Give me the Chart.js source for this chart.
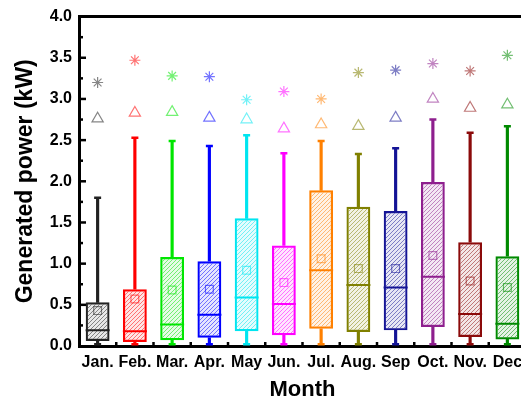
<!DOCTYPE html>
<html lang="en">
<head>
<meta charset="UTF-8" />
<title>Generated power by month</title>
<script src="https://cdn.jsdelivr.net/npm/chart.js"></script>
<style>
  html, body { margin: 0; padding: 0; background: #fff; overflow: hidden; }
  canvas { display: block; }
</style>
</head>
<body>
<canvas id="powerChart" width="540" height="399"></canvas>
<script>
  // values (kW)
  const months = ['Jan.', 'Feb.', 'Mar.', 'Apr.', 'May', 'Jun.', 'Jul.', 'Aug.', 'Sep', 'Oct.', 'Nov.', 'Dec'];
  const whiskerLow  = [0.02, 0.02, 0.02, 0.02, 0.02, 0.02, 0.02, 0.02, 0.02, 0.02, 0.02, 0.02];
  const q1          = [0.06, 0.05, 0.07, 0.10, 0.18, 0.13, 0.21, 0.17, 0.19, 0.23, 0.11, 0.08];
  const median      = [0.19, 0.18, 0.26, 0.38, 0.59, 0.51, 0.92, 0.74, 0.71, 0.84, 0.39, 0.27];
  const q3          = [0.53, 0.69, 1.08, 1.03, 1.55, 1.22, 1.89, 1.69, 1.64, 1.99, 1.26, 1.09];
  const mean        = [0.43, 0.57, 0.68, 0.69, 0.92, 0.77, 1.06, 0.94, 0.94, 1.10, 0.79, 0.71];
  const whiskerHigh = [1.80, 2.53, 2.49, 2.43, 2.56, 2.34, 2.49, 2.33, 2.40, 2.75, 2.59, 2.67];
  const p99         = [2.76, 2.83, 2.84, 2.77, 2.75, 2.64, 2.69, 2.67, 2.77, 3.00, 2.89, 2.93];
  const maxVal      = [3.20, 3.47, 3.28, 3.27, 2.99, 3.09, 3.00, 3.32, 3.35, 3.43, 3.34, 3.53];
  const yTicks      = [0, 0.5, 1.0, 1.5, 2.0, 2.5, 3.0, 3.5, 4.0];

  const colors = ['#222222', '#ff0000', '#00e600', '#0000ff', '#00e5f0', '#ff00ff',
                  '#ff8000', '#808000', '#141496', '#8e1f8e', '#8b0a0a', '#008a00'];

  function rgba(hex, a) {
    const n = parseInt(hex.slice(1), 16);
    return `rgba(${n >> 16}, ${(n >> 8) & 255}, ${n & 255}, ${a})`;
  }

  // diagonal hatch fill like the original boxes
  function hatch(hex) {
    const s = 4;
    const c = document.createElement('canvas');
    c.width = s; c.height = s;
    const g = c.getContext('2d');
    g.fillStyle = rgba(hex, 0.10);
    g.fillRect(0, 0, s, s);
    g.strokeStyle = rgba(hex, 0.5);
    g.lineWidth = 1;
    g.beginPath();
    g.moveTo(0, s); g.lineTo(s, 0);
    g.moveTo(-1, 1); g.lineTo(1, -1);
    g.moveTo(s - 1, s + 1); g.lineTo(s + 1, s - 1);
    g.stroke();
    return g.createPattern(c, 'repeat');
  }

  const faded = colors.map(c => rgba(c, 0.55));
  const font = 'Liberation Sans, Arial, sans-serif';

  const innerTicks = {
    id: 'innerTicks',
    afterDraw(chart) {
      const {ctx, chartArea: a, scales: {x, y}} = chart;
      ctx.save();
      ctx.strokeStyle = '#000';
      ctx.lineWidth = 2.5;
      for (let k = 1; k < 16; k++) {
        const py = y.getPixelForValue(k * 0.25);
        const len = k % 2 === 0 ? 7 : 4;
        ctx.beginPath(); ctx.moveTo(a.left, py); ctx.lineTo(a.left + len, py); ctx.stroke();
      }
      for (let i = 1; i < months.length; i++) {
        const px = x.getPixelForValue(i - 0.5);
        ctx.beginPath(); ctx.moveTo(px, a.bottom); ctx.lineTo(px, a.bottom - 4); ctx.stroke();
      }
      ctx.restore();
    }
  };

  const whiskerStyle = {
    type: 'bar',
    grouped: false,
    barThickness: 2.5,
    backgroundColor: colors,
    borderWidth: 0,
    order: 6
  };

  const markerStyle = {
    type: 'line',
    showLine: false,
    borderWidth: 1.2,
    backgroundColor: 'rgba(0,0,0,0)'
  };

  new Chart(document.getElementById('powerChart'), {
    type: 'bar',
    data: {
      labels: months,
      datasets: [
        { ...whiskerStyle, data: months.map((m, i) => [q3[i], whiskerHigh[i]]) },
        { ...whiskerStyle, data: months.map((m, i) => [whiskerLow[i], q1[i]]) },
        {
          type: 'bar',
          grouped: false,
          data: months.map((m, i) => [q1[i], q3[i]]),
          backgroundColor: colors.map(hatch),
          borderColor: colors,
          borderWidth: 2.2,
          borderSkipped: false,
          categoryPercentage: 1,
          barPercentage: 0.64,
          order: 5
        },
        { ...markerStyle, data: median, pointStyle: 'line', pointRadius: 12, borderWidth: 2, borderColor: colors, order: 4 },
        { ...markerStyle, data: whiskerHigh, pointStyle: 'line', pointRadius: 3.5, borderWidth: 2.5, borderColor: colors, order: 4 },
        { ...markerStyle, data: whiskerLow, pointStyle: 'line', pointRadius: 3.5, borderWidth: 2.5, borderColor: colors, order: 4 },
        { ...markerStyle, data: mean, pointStyle: 'rect', pointRadius: 5.5, borderColor: faded, order: 3 },
        { ...markerStyle, data: p99, pointStyle: 'triangle', pointRadius: 6.5, borderColor: faded, order: 2 },
        { ...markerStyle, data: maxVal, pointStyle: 'star', pointRadius: 5.5, borderColor: faded, order: 1 }
      ]
    },
    options: {
      responsive: false,
      animation: false,
      layout: { padding: 0 },
      plugins: { legend: { display: false }, tooltip: { enabled: false } },
      scales: {
        x: {
          type: 'category',
          offset: true,
          grid: { display: false, drawTicks: false },
          border: { display: true, color: '#000', width: 3 },
          ticks: {
            color: '#000', padding: 7, autoSkip: false, maxRotation: 0,
            font: { family: font, size: 16, weight: 'bold' }
          },
          title: {
            display: true, text: 'Month', color: '#000', padding: 0,
            font: { family: font, size: 22, weight: 'bold', lineHeight: 0.8 }
          },
          afterFit(scale) { scale.height = 53; }
        },
        xTop: {
          type: 'category',
          position: 'top',
          grid: { display: false, drawTicks: false },
          border: { display: true, color: '#000', width: 3 },
          ticks: { display: false },
          afterFit(scale) { scale.height = 14; }
        },
        y: {
          min: 0,
          max: 4,
          afterBuildTicks(scale) { scale.ticks = yTicks.map(v => ({ value: v })); },
          grid: { display: false, drawTicks: false },
          border: { display: true, color: '#000', width: 3 },
          ticks: {
            color: '#000', padding: 7,
            font: { family: font, size: 16, weight: 'bold' },
            callback: v => v.toFixed(1)
          },
          title: {
            display: true, text: 'Generated power (kW)', color: '#000',
            padding: { top: 12, bottom: 0 },
            font: { family: font, size: 23, weight: 'bold' }
          },
          afterFit(scale) { scale.width = 79; }
        }
      }
    },
    plugins: [innerTicks]
  });
</script>
</body>
</html>
